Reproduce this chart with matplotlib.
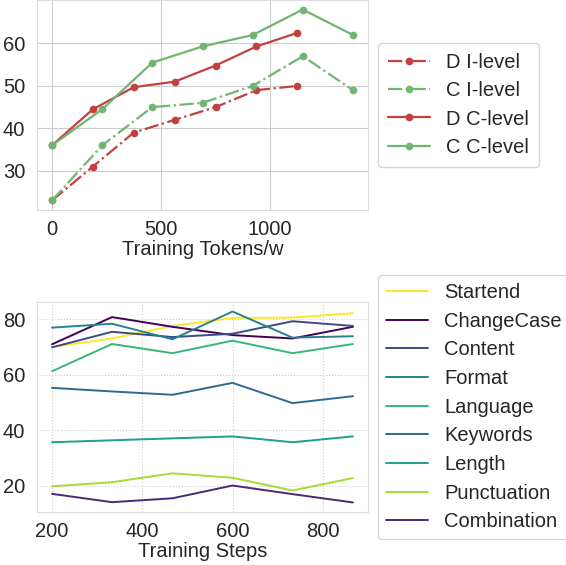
import matplotlib
matplotlib.use("Agg")
import matplotlib.pyplot as plt
import seaborn as sns

sns.set_style("whitegrid")
plt.rcParams['font.family'] = ['Liberation Sans', 'DejaVu Sans']

# top panel: tokens
d_tokens = [0, 187.5, 375, 562.5, 750, 937.5, 1125]
c_tokens = [0, 230, 460, 690, 920, 1150, 1380]
d_ilevel = [23, 31, 39, 42, 45, 49, 50]
c_ilevel = [23, 36, 45, 46, 50, 57, 49]
d_clevel = [36, 44.5, 49.7, 51, 54.8, 59.3, 62.5]
c_clevel = [36, 44.5, 55.5, 59.3, 62, 68, 62]

# bottom panel: steps
steps = [200, 333, 467, 600, 733, 867]
categories = ['Startend', 'ChangeCase', 'Content', 'Format', 'Language',
              'Keywords', 'Length', 'Punctuation', 'Combination']
scores = {
    'Startend':    [70.1, 73.1, 77.6, 80.5, 80.6, 82.2],
    'ChangeCase':  [71.0, 80.8, 77.3, 74.3, 73.1, 77.3],
    'Content':     [69.9, 75.5, 73.6, 74.8, 79.3, 77.6],
    'Format':      [77.0, 78.4, 72.8, 82.8, 73.4, 73.9],
    'Language':    [61.3, 71.1, 67.8, 72.3, 67.8, 71.1],
    'Keywords':    [55.3, 54.0, 52.8, 57.1, 49.8, 52.3],
    'Length':      [35.7, 36.4, 37.1, 37.8, 35.7, 37.8],
    'Punctuation': [19.8, 21.3, 24.5, 22.9, 18.3, 22.8],
    'Combination': [17.1, 14.1, 15.5, 20.1, 17.0, 14.0],
}
colors = ['#fde725', '#440154', '#3e4989', '#26828e', '#35b779',
          '#31688e', '#1f9e89', '#a5db36', '#482878']

red = '#c2403f'
green = '#72b472'
fs = 14.5

fig = plt.figure(figsize=(5.66, 5.65), dpi=100)
ax1 = fig.add_axes([37/566, 1 - 210/565, 331/566, 210/565])
ax2 = fig.add_axes([37/566, 1 - 512/565, 331/566, 210/565])

ax1.plot(d_tokens, d_ilevel, '-.', marker='o', ms=4.5, color=red, lw=1.6, label='D I-level')
ax1.plot(c_tokens, c_ilevel, '-.', marker='o', ms=4.5, color=green, lw=1.6, label='C I-level')
ax1.plot(d_tokens, d_clevel, '-', marker='o', ms=4.5, color=red, lw=1.6, label='D C-level')
ax1.plot(c_tokens, c_clevel, '-', marker='o', ms=4.5, color=green, lw=1.6, label='C C-level')
ax1.set_xlabel('Training Tokens/w', fontsize=fs, labelpad=1)
ax1.set_xticks([0, 500, 1000])
ax1.set_yticks([30, 40, 50, 60])
ax1.tick_params(axis='y', labelsize=fs, pad=5)
ax1.tick_params(axis='x', labelsize=fs, pad=3.5)
ax1.legend(loc='center left', bbox_to_anchor=(1.03, 0.5), borderaxespad=0,
           fontsize=fs, handlelength=2.1, handletextpad=0.8,
           borderpad=0.5, labelspacing=0.45)

for name, col in zip(categories, colors):
    ax2.plot(steps, scores[name], color=col, lw=1.4, label=name)
ax2.grid(True, linestyle=':')
ax2.set_xlabel('Training Steps', fontsize=fs, labelpad=1)
ax2.set_xticks([200, 400, 600, 800])
ax2.set_yticks([20, 40, 60, 80])
ax2.tick_params(axis='y', labelsize=fs, pad=5)
ax2.tick_params(axis='x', labelsize=fs, pad=3.5)
ax2.legend(loc='upper left', bbox_to_anchor=(1.03, 1.129), borderaxespad=0,
           fontsize=fs, handlelength=2.1, handletextpad=0.8,
           borderpad=0.4, labelspacing=0.48)

for ax in (ax1, ax2):
    for s in ax.spines.values():
        s.set_color('#dddddd')

fig.savefig('out.png', dpi=100)
